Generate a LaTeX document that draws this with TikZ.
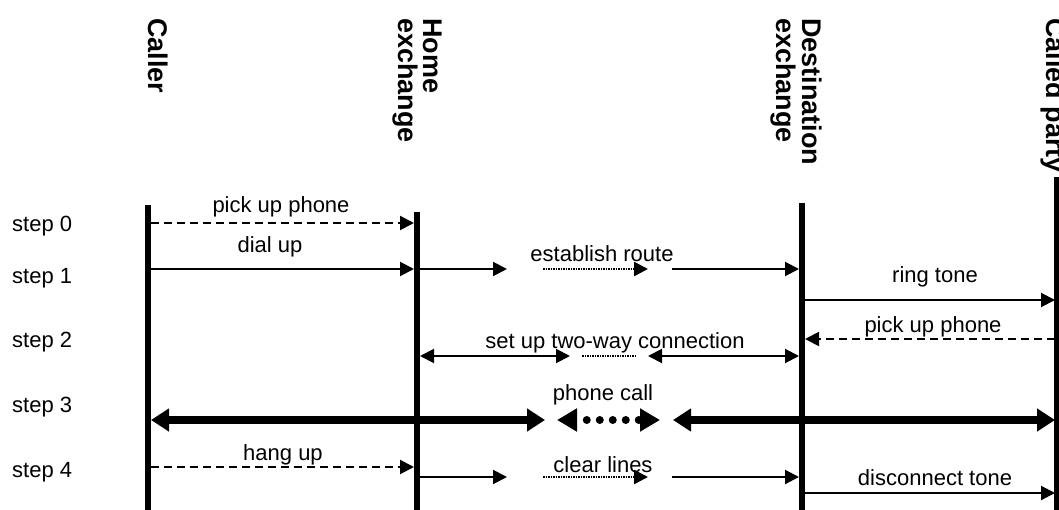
\documentclass[tikz,border=0pt]{standalone}
\usepackage{fontspec}
\setmainfont{Liberation Sans}
\usetikzlibrary{arrows.meta}
\begin{document}
\begin{tikzpicture}[x=1pt,y=-1pt,
  life/.style={line width=6pt},
  tipa/.style={},
  msg/.style={line width=2pt, -{Triangle[length=14pt,width=14pt]}},
  dmsg/.style={msg, dash pattern=on 8pt off 5pt},
  twoway/.style={line width=2pt, {Triangle[length=14pt,width=14pt]}-{Triangle[length=14pt,width=14pt]}},
  dotseg/.style={line width=2.5pt, dash pattern=on 1.5pt off 1pt},
  dotmsg/.style={dotseg, -{Triangle[length=14pt,width=14pt]}},
  bigtwoway/.style={line width=8pt, {Triangle[length=18pt,width=22pt]}-{Triangle[length=18pt,width=22pt]}},
  bigdots/.style={line width=8pt, line cap=round, dash pattern=on 0pt off 13pt, dash phase=2pt,
     {Triangle[length=20pt,width=22pt]}-{Triangle[length=20pt,width=22pt]}},
  lbl/.style={font=\fontsize{22}{24}\selectfont, inner sep=0pt, anchor=base},
  steplbl/.style={font=\fontsize{22}{24}\selectfont, inner sep=0pt, anchor=base west},
  hdr/.style={font=\bfseries\fontsize{27}{27}\selectfont, rotate=-90, anchor=base west, inner sep=0pt}]
\useasboundingbox (0,0) rectangle (1059,510);

% headers
\node[hdr] (hCaller) at (148,18) {Caller};
\node[hdr] (hHomeA) at (423,18) {Home};
\node[hdr] (hHomeB) at (398,18) {exchange};
\node[hdr] (hDestA) at (802,18) {Destination};
\node[hdr] (hDestB) at (776,18) {exchange};
\node[hdr] (hCalled) at (1046,18) {Called party};

% lifelines
\coordinate (cT) at (148,205); \coordinate (cB) at (148,515);
\coordinate (hT) at (417,212); \coordinate (hB) at (417,515);
\coordinate (dT) at (802,203); \coordinate (dB) at (802,515);
\coordinate (pT) at (1057,177); \coordinate (pB) at (1057,515);
\draw[life] (cT) -- (cB);
\draw[life] (hT) -- (hB);
\draw[life] (dT) -- (dB);
\draw[life] (pT) -- (pB);

% step labels
\node[steplbl] (st0) at (12,232) {step 0};
\node[steplbl] (st1) at (12,284) {step 1};
\node[steplbl] (st2) at (12,347) {step 2};
\node[steplbl] (st3) at (12,412) {step 3};
\node[steplbl] (st4) at (12,477) {step 4};

% step 0
\coordinate (a0s) at (151,223); \coordinate (a0e) at (414,223);
\draw[dmsg] (a0s) -- (a0e);
\node[lbl] (l0) at (281,213) {pick up phone};

% step 1
\coordinate (a1s) at (151,269); \coordinate (a1e) at (414,269);
\draw[msg] (a1s) -- (a1e);
\node[lbl] (l1) at (270,253) {dial up};
\coordinate (e1s) at (420,269); \coordinate (e1e) at (507,269);
\coordinate (e2s) at (543,269); \coordinate (e2e) at (648,269);
\coordinate (e3s) at (672,269); \coordinate (e3e) at (799,269);
\draw[msg] (e1s) -- (e1e);
\draw[dotmsg] (e2s) -- (e2e);
\draw[msg] (e3s) -- (e3e);
\node[lbl] (lest) at (602,262) {establish route};
\coordinate (r1s) at (805,300); \coordinate (r1e) at (1055,300);
\draw[msg] (r1s) -- (r1e);
\node[lbl] (lring) at (935,283) {ring tone};

% step 2
\coordinate (p2s) at (1055,339); \coordinate (p2e) at (805,339);
\draw[dmsg] (p2s) -- (p2e);
\node[lbl] (lpick2) at (933,332) {pick up phone};
\coordinate (s1s) at (420,356); \coordinate (s1e) at (570,356);
\coordinate (s2s) at (582,356); \coordinate (s2e) at (635,356);
\coordinate (s3s) at (648,356); \coordinate (s3e) at (799,356);
\draw[twoway] (s1s) -- (s1e);
\draw[dotseg] (s2s) -- (s2e);
\draw[twoway] (s3s) -- (s3e);
\node[lbl] (lsetup) at (615,348) {set up two-way connection};

% step 3
\coordinate (c1s) at (151,420); \coordinate (c1e) at (545,420);
\coordinate (c2s) at (557,420); \coordinate (c2e) at (660,420);
\coordinate (c3s) at (673,420); \coordinate (c3e) at (1055,420);
\draw[bigtwoway] (c1s) -- (c1e);
\draw[bigdots] (c2s) -- (c2e);
\draw[bigtwoway] (c3s) -- (c3e);
\node[lbl] (lcall) at (603,400) {phone call};

% step 4
\coordinate (h1s) at (151,467); \coordinate (h1e) at (414,467);
\draw[dmsg] (h1s) -- (h1e);
\node[lbl] (lhang) at (283,460) {hang up};
\coordinate (k1s) at (420,477); \coordinate (k1e) at (507,477);
\coordinate (k2s) at (543,477); \coordinate (k2e) at (648,477);
\coordinate (k3s) at (672,477); \coordinate (k3e) at (799,477);
\draw[msg] (k1s) -- (k1e);
\draw[dotmsg] (k2s) -- (k2e);
\draw[msg] (k3s) -- (k3e);
\node[lbl] (lclear) at (603,472) {clear lines};
\coordinate (t1s) at (805,493); \coordinate (t1e) at (1055,493);
\draw[msg] (t1s) -- (t1e);
\node[lbl] (ldisc) at (935,485) {disconnect tone};
\end{tikzpicture}
\end{document}
